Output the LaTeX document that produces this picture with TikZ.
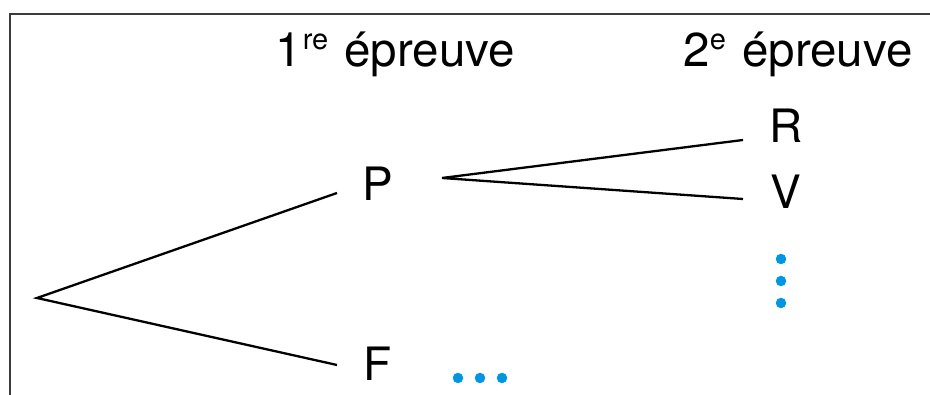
\documentclass[tikz,border=0pt]{standalone}
\usepackage{fontspec}
\setmainfont{TeX Gyre Heros}
\definecolor{dotblue}{RGB}{0,150,228}
\definecolor{framegray}{RGB}{60,60,60}
\begin{document}
\begin{tikzpicture}[x=1pt,y=1pt,
  lbl/.style={inner sep=0pt, font=\fontsize{46}{50}\selectfont},
  head/.style={inner sep=0pt, font=\fontsize{47.5}{50}\selectfont},
  branch/.style={line width=2.3pt, black},
  frameline/.style={line width=2.5pt, framegray},
  bluedot/.style={circle, fill=dotblue, inner sep=0pt, minimum size=10.5pt}]
\useasboundingbox (0,0) rectangle (930,395);
% frame
\draw[frameline] (10,-5) -- (10,381) -- (940,381);
% headers
\node[head, anchor=base] (h1) at (395,328) {1\hspace{1pt}\raisebox{17pt}{\fontsize{29}{30}\selectfont re}\hspace{3pt} épreuve};
\node[head, anchor=base] (h2) at (798,328) {2\raisebox{17pt}{\fontsize{29}{30}\selectfont e}\hspace{3pt} épreuve};
% tree
\coordinate (root) at (37,97);
\node[lbl] (P) at (378,211) {P};
\node[lbl] (F) at (378,31) {F};
\node[lbl] (R) at (786,269) {R};
\node[lbl] (V) at (786,203) {V};
\draw[branch] ([shift={(-41pt,-9pt)}]P.center) -- (root) -- ([shift={(-41pt,-1pt)}]F.center);
\draw[branch] ([shift={(-43pt,-14pt)}]R.center) -- ([shift={(64pt,6pt)}]P.center) -- ([shift={(-43pt,-7pt)}]V.center);
% dots
\node[bluedot] (d1) at (458,17) {};
\node[bluedot] (d2) at (480,17) {};
\node[bluedot] (d3) at (502,17) {};
\node[bluedot] (v1) at (781,136) {};
\node[bluedot] (v2) at (781,114) {};
\node[bluedot] (v3) at (781,92) {};
\end{tikzpicture}
\end{document}
